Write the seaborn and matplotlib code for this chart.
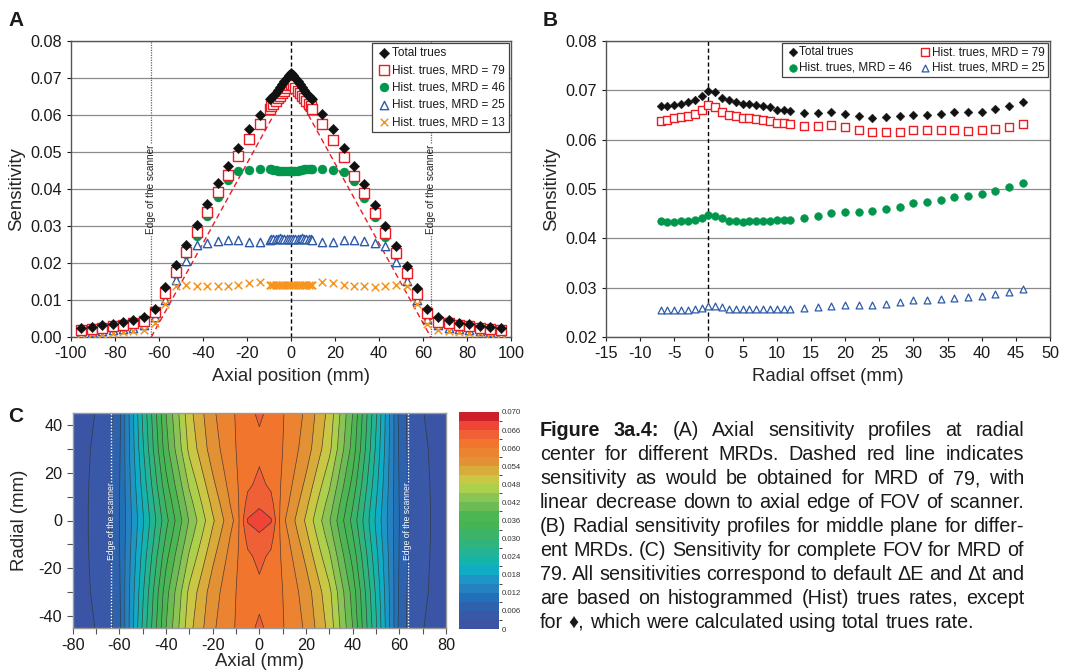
import numpy as np
import pandas as pd
import matplotlib
matplotlib.use("Agg")
import matplotlib.pyplot as plt
import seaborn as sns
from matplotlib.colors import ListedColormap, BoundaryNorm
from matplotlib.ticker import MultipleLocator, FormatStrFormatter

# ------------------------------------------------------------------ data
# Panel A : axial sensitivity profiles (radial centre)
axial_pos = [-95.4, -90.6, -85.9, -81.1, -76.3, -71.6, -66.8, -62.0, -57.2, -52.5,
             -47.7, -42.9, -38.2, -33.4, -28.6, -23.9, -19.1, -14.3, -9.5,
             -9, -8, -7, -6, -5, -4, -3, -2, -1, 0, 1, 2, 3, 4, 5, 6, 7, 8, 9,
             9.5, 14.3, 19.1, 23.9, 28.6, 33.4, 38.2, 42.9, 47.7, 52.5,
             57.2, 62.0, 66.8, 71.6, 76.3, 81.1, 85.9, 90.6, 95.4]
a_total = [0.0023, 0.0027, 0.0032, 0.0036, 0.0041, 0.0047, 0.0054, 0.0077, 0.0135, 0.0194,
           0.0248, 0.0302, 0.0359, 0.0415, 0.0462, 0.0511, 0.0563, 0.0601, 0.0644,
           0.0645, 0.0652, 0.0660, 0.0668, 0.0676, 0.0684, 0.0692, 0.0700, 0.0708, 0.0714,
           0.0708, 0.0700, 0.0692, 0.0684, 0.0676, 0.0668, 0.0660, 0.0652, 0.0645,
           0.0644, 0.0602, 0.0561, 0.0511, 0.0462, 0.0413, 0.0357, 0.0301, 0.0247, 0.0192,
           0.0133, 0.0076, 0.0054, 0.0046, 0.0039, 0.0036, 0.0031, 0.0028, 0.0023]
a_mrd79 = [0.0018, 0.0022, 0.0024, 0.0029, 0.0033, 0.0039, 0.0042, 0.0068, 0.0120, 0.0177,
           0.0230, 0.0284, 0.0339, 0.0391, 0.0438, 0.0488, 0.0535, 0.0575, 0.0616,
           0.0624, 0.0631, 0.0638, 0.0645, 0.0652, 0.0659, 0.0666, 0.0673, 0.0680, 0.0685,
           0.0680, 0.0673, 0.0666, 0.0659, 0.0652, 0.0645, 0.0638, 0.0631, 0.0624,
           0.0616, 0.0575, 0.0533, 0.0486, 0.0435, 0.0388, 0.0336, 0.0281, 0.0228, 0.0174,
           0.0117, 0.0064, 0.0041, 0.0038, 0.0033, 0.0029, 0.0025, 0.0022, 0.0018]
a_mrd46 = [0.0015, 0.0018, 0.0021, 0.0024, 0.0027, 0.0032, 0.0038, 0.0060, 0.0114, 0.0171,
           0.0223, 0.0273, 0.0327, 0.0379, 0.0423, 0.0448, 0.0452, 0.0454, 0.0454,
           0.0453, 0.0452, 0.0451, 0.0450, 0.0449, 0.0449, 0.0448, 0.0448, 0.0448, 0.0448,
           0.0449, 0.0449, 0.0450, 0.0451, 0.0452, 0.0453, 0.0454, 0.0455, 0.0455,
           0.0455, 0.0454, 0.0452, 0.0446, 0.0422, 0.0377, 0.0325, 0.0271, 0.0221, 0.0168,
           0.0112, 0.0058, 0.0038, 0.0032, 0.0027, 0.0024, 0.0021, 0.0018, 0.0015]
a_mrd25 = [0.0012, 0.0014, 0.0016, 0.0018, 0.0021, 0.0025, 0.0032, 0.0054, 0.0101, 0.0155,
           0.0205, 0.0248, 0.0255, 0.0259, 0.0261, 0.0262, 0.0257, 0.0257, 0.0263,
           0.0265, 0.0266, 0.0266, 0.0266, 0.0267, 0.0266, 0.0266, 0.0266, 0.0266, 0.0266,
           0.0266, 0.0266, 0.0266, 0.0266, 0.0267, 0.0266, 0.0266, 0.0266, 0.0265,
           0.0263, 0.0257, 0.0257, 0.0262, 0.0261, 0.0259, 0.0255, 0.0247, 0.0203, 0.0151,
           0.0099, 0.0050, 0.0032, 0.0025, 0.0021, 0.0018, 0.0016, 0.0014, 0.0012]
a_mrd13 = [0.0007, 0.0009, 0.0009, 0.0012, 0.0014, 0.0015, 0.0018, 0.0038, 0.0088, 0.0137,
           0.0141, 0.0139, 0.0137, 0.0137, 0.0138, 0.0140, 0.0147, 0.0149, 0.0141,
           0.0140, 0.0140, 0.0140, 0.0140, 0.0140, 0.0140, 0.0140, 0.0140, 0.0140, 0.0140,
           0.0140, 0.0140, 0.0140, 0.0140, 0.0140, 0.0140, 0.0140, 0.0140, 0.0140,
           0.0141, 0.0148, 0.0147, 0.0140, 0.0138, 0.0137, 0.0136, 0.0138, 0.0141, 0.0137,
           0.0088, 0.0036, 0.0018, 0.0015, 0.0013, 0.0012, 0.0010, 0.0009, 0.0007]
ideal_x = [-63.5, 0.0, 63.5]          # dashed red line (MRD 79, linear decrease)
ideal_y = [0.0, 0.0685, 0.0]
scanner_edge = [-63.5, 63.5]

# Panel B : radial sensitivity profiles (middle plane)
radial_pos = [-7, -6, -5, -4, -3, -2, -1, 0, 1, 2, 3, 4, 5, 6, 7, 8, 9, 10, 11, 12,
              14, 16, 18, 20, 22, 24, 26, 28, 30, 32, 34, 36, 38, 40, 42, 44, 46]
b_total = [0.0668, 0.0669, 0.0671, 0.0673, 0.0676, 0.0681, 0.0689, 0.0699, 0.0697, 0.0685,
           0.0680, 0.0677, 0.0672, 0.0672, 0.0670, 0.0668, 0.0666, 0.0661, 0.0661, 0.0659,
           0.0655, 0.0655, 0.0657, 0.0652, 0.0648, 0.0644, 0.0646, 0.0648, 0.0650, 0.0651,
           0.0652, 0.0656, 0.0656, 0.0657, 0.0662, 0.0668, 0.0676]
b_mrd79 = [0.0638, 0.0640, 0.0643, 0.0645, 0.0648, 0.0653, 0.0660, 0.0670, 0.0666, 0.0657,
           0.0651, 0.0647, 0.0644, 0.0643, 0.0642, 0.0640, 0.0638, 0.0634, 0.0633, 0.0631,
           0.0628, 0.0628, 0.0629, 0.0626, 0.0620, 0.0616, 0.0616, 0.0616, 0.0620, 0.0620,
           0.0620, 0.0620, 0.0618, 0.0619, 0.0622, 0.0626, 0.0632]
b_mrd46 = [0.0435, 0.0434, 0.0434, 0.0435, 0.0436, 0.0438, 0.0442, 0.0448, 0.0445, 0.0441,
           0.0436, 0.0435, 0.0434, 0.0435, 0.0436, 0.0436, 0.0436, 0.0437, 0.0437, 0.0438,
           0.0441, 0.0445, 0.0451, 0.0453, 0.0453, 0.0455, 0.0459, 0.0464, 0.0471, 0.0474,
           0.0478, 0.0483, 0.0485, 0.0490, 0.0496, 0.0504, 0.0513]
b_mrd25 = [0.0255, 0.0255, 0.0255, 0.0255, 0.0255, 0.0257, 0.0259, 0.0263, 0.0263, 0.0260,
           0.0257, 0.0256, 0.0256, 0.0256, 0.0256, 0.0256, 0.0256, 0.0256, 0.0256, 0.0256,
           0.0258, 0.0261, 0.0263, 0.0265, 0.0265, 0.0265, 0.0267, 0.0270, 0.0274, 0.0276,
           0.0278, 0.0280, 0.0281, 0.0284, 0.0287, 0.0291, 0.0297]

# Panel C : sensitivity map for MRD 79 (rows = radial position)
c_axial = [-80, -72, -65, -60, -50, -40, -30, -20, -10, -5, 0,
           5, 10, 20, 30, 40, 50, 60, 65, 72, 80]
c_radial = [-45, -30, -15, -7, 0, 7, 15, 30, 45]
c_row_m45 = [0.0012, 0.0026, 0.0045, 0.0082, 0.0245, 0.0390, 0.0500, 0.0565, 0.0602, 0.0622, 0.0635,
             0.0622, 0.0602, 0.0565, 0.0500, 0.0390, 0.0245, 0.0082, 0.0045, 0.0026, 0.0012]
c_row_m30 = [0.0012, 0.0031, 0.0047, 0.0085, 0.0235, 0.0378, 0.0488, 0.0556, 0.0600, 0.0614, 0.0622,
             0.0614, 0.0600, 0.0556, 0.0488, 0.0378, 0.0235, 0.0085, 0.0047, 0.0031, 0.0012]
c_row_m15 = [0.0011, 0.0033, 0.0049, 0.0088, 0.0220, 0.0350, 0.0455, 0.0533, 0.0595, 0.0624, 0.0638,
             0.0624, 0.0595, 0.0533, 0.0455, 0.0350, 0.0220, 0.0088, 0.0049, 0.0033, 0.0011]
c_row_m7 = [0.0010, 0.0034, 0.0050, 0.0089, 0.0211, 0.0333, 0.0437, 0.0518, 0.0588, 0.0640, 0.0652,
            0.0640, 0.0588, 0.0518, 0.0437, 0.0333, 0.0211, 0.0089, 0.0050, 0.0034, 0.0010]
c_row_0 = [0.0010, 0.0034, 0.0050, 0.0090, 0.0205, 0.0320, 0.0423, 0.0505, 0.0578, 0.0663, 0.0680,
           0.0663, 0.0578, 0.0505, 0.0423, 0.0320, 0.0205, 0.0090, 0.0050, 0.0034, 0.0010]
c_row_p7 = [0.0010, 0.0034, 0.0050, 0.0089, 0.0211, 0.0333, 0.0437, 0.0518, 0.0588, 0.0640, 0.0652,
            0.0640, 0.0588, 0.0518, 0.0437, 0.0333, 0.0211, 0.0089, 0.0050, 0.0034, 0.0010]
c_row_p15 = [0.0011, 0.0033, 0.0049, 0.0088, 0.0220, 0.0350, 0.0455, 0.0533, 0.0595, 0.0624, 0.0638,
             0.0624, 0.0595, 0.0533, 0.0455, 0.0350, 0.0220, 0.0088, 0.0049, 0.0033, 0.0011]
c_row_p30 = [0.0012, 0.0031, 0.0047, 0.0085, 0.0235, 0.0378, 0.0488, 0.0556, 0.0600, 0.0614, 0.0622,
             0.0614, 0.0600, 0.0556, 0.0488, 0.0378, 0.0235, 0.0085, 0.0047, 0.0031, 0.0012]
c_row_p45 = [0.0012, 0.0026, 0.0045, 0.0082, 0.0245, 0.0390, 0.0500, 0.0565, 0.0602, 0.0622, 0.0635,
             0.0622, 0.0602, 0.0565, 0.0500, 0.0390, 0.0245, 0.0082, 0.0045, 0.0026, 0.0012]
c_levels = [0.000, 0.003, 0.006, 0.009, 0.012, 0.015, 0.018, 0.021, 0.024, 0.027, 0.030, 0.033,
            0.036, 0.039, 0.042, 0.045, 0.048, 0.051, 0.054, 0.057, 0.060, 0.063, 0.066, 0.069, 0.072]
cbar_ticks = [0.0, 0.006, 0.012, 0.018, 0.024, 0.030, 0.036, 0.042, 0.048, 0.054, 0.060, 0.066, 0.072]
cbar_labels = ["0", "0.006", "0.012", "0.018", "0.024", "0.030", "0.036", "0.042",
               "0.048", "0.054", "0.060", "0.066", "0.070"]

labels = ["Total trues", "Hist. trues, MRD = 79", "Hist. trues, MRD = 46",
          "Hist. trues, MRD = 25", "Hist. trues, MRD = 13"]

caption_lines = [
    "Figure 3a.4: (A) Axial sensitivity profiles at radial",
    "center for different MRDs. Dashed red line indicates",
    "sensitivity as would be obtained for MRD of 79, with",
    "linear decrease down to axial edge of FOV of scanner.",
    "(B) Radial sensitivity profiles for middle plane for differ-",
    "ent MRDs. (C) Sensitivity for complete FOV for MRD of",
    "79. All sensitivities correspond to default \u0394E and \u0394t and",
    "are based on histogrammed (Hist) trues rates, except",
    "for \u2666, which were calculated using total trues rate.",
]

# ------------------------------------------------------------------ style
sns.set_style("ticks")
FAM = ["Liberation Sans", "DejaVu Sans"]
plt.rcParams["font.family"] = FAM
plt.rcParams["axes.unicode_minus"] = False
plt.rcParams["text.color"] = "#1a1a1a"

C_BLACK = "#111111"
C_RED = "#ec1c24"
C_GREEN = "#00964b"
C_BLUE = "#2e5aa8"
C_ORANGE = "#f7941d"
GRID = "#8a8a8a"
SPINE = "#555555"

band_colors = ["#3b54a3", "#3958a7", "#2f62ad", "#2270b7", "#2681c1", "#1e96c5",
               "#10abc4", "#14b3ad", "#22b494", "#2fb47c", "#3bb46a", "#45b457",
               "#4cb652", "#6cbc56", "#8ac455", "#acd04c", "#c9c744", "#d8ab3b",
               "#e29235", "#ec8331", "#f2752d", "#f06036", "#ee4536", "#cc1f2a"]

TICK_FS = 11.7
LAB_FS = 13.4
LEG_FS = 8.5

fig = plt.figure(figsize=(10.76, 6.71), dpi=100)
W, H = 1076.0, 671.0


def box(l, t, r, b):
    return [l / W, 1 - b / H, (r - l) / W, (b - t) / H]


def style_axes(ax):
    for s in ax.spines.values():
        s.set_color(SPINE)
        s.set_linewidth(1.0)
    ax.tick_params(labelsize=TICK_FS, colors="#1a1a1a", length=3, width=0.8)
    for t in ax.get_xticklabels() + ax.get_yticklabels():
        t.set_family(FAM)


# ------------------------------------------------------------------ panel A
axA = fig.add_axes(box(71, 41, 511, 337))
dfA = pd.DataFrame({"x": axial_pos, "total": a_total, "m79": a_mrd79,
                    "m46": a_mrd46, "m25": a_mrd25, "m13": a_mrd13})
axA.yaxis.grid(True, color=GRID, lw=0.9)
axA.set_axisbelow(True)
axA.axvline(0, color="black", lw=1.0, ls=(0, (3, 2)), zorder=1)
for xe in scanner_edge:
    axA.axvline(xe, ymin=0, ymax=0.345, color="#666666", lw=0.9, ls=(0, (1, 1)), zorder=1)
    axA.axvline(xe, ymin=0.657, ymax=1, color="#666666", lw=0.9, ls=(0, (1, 1)), zorder=1)
    axA.text(xe, 0.0400, "Edge of the scanner", rotation=90, ha="center", va="center",
             fontsize=7.2, color="#222222")
axA.plot(ideal_x, ideal_y, color=C_RED, lw=1.0, ls=(0, (4, 2.5)), zorder=2)

sns.scatterplot(data=dfA, x="x", y="total", marker="D", s=28, color=C_BLACK,
                edgecolor=C_BLACK, linewidth=0.3, label=labels[0], ax=axA, zorder=6)
sns.scatterplot(data=dfA, x="x", y="m79", marker="s", s=44, color="white",
                edgecolor=C_RED, linewidth=1.0, label=labels[1], ax=axA, zorder=5)
sns.scatterplot(data=dfA, x="x", y="m46", marker="o", s=42, color=C_GREEN,
                edgecolor=C_GREEN, linewidth=0.3, label=labels[2], ax=axA, zorder=4)
sns.scatterplot(data=dfA, x="x", y="m25", marker="^", s=36, color="white",
                edgecolor=C_BLUE, linewidth=1.0, label=labels[3], ax=axA, zorder=4)
sns.scatterplot(data=dfA, x="x", y="m13", marker="x", s=30, color=C_ORANGE,
                linewidth=1.1, label=labels[4], ax=axA, zorder=4)
axA.set_xlim(-100, 100)
axA.set_ylim(0, 0.08)
axA.xaxis.set_major_locator(MultipleLocator(20))
axA.yaxis.set_major_locator(MultipleLocator(0.01))
axA.yaxis.set_major_formatter(FormatStrFormatter("%.2f"))
axA.set_xlabel("Axial position (mm)", fontsize=LAB_FS, labelpad=5)
axA.set_ylabel("Sensitivity", fontsize=LAB_FS, labelpad=4)
style_axes(axA)
legA = axA.legend(loc="upper right", fontsize=LEG_FS, frameon=True, fancybox=False,
                  framealpha=1, edgecolor="#444444", borderpad=0.35, labelspacing=0.45,
                  handletextpad=0.05, borderaxespad=0.15, handlelength=1.3)
legA.get_frame().set_linewidth(0.9)

# ------------------------------------------------------------------ panel B
axB = fig.add_axes(box(606, 41, 1050, 337))
dfB = pd.DataFrame({"x": radial_pos, "total": b_total, "m79": b_mrd79,
                    "m46": b_mrd46, "m25": b_mrd25})
axB.yaxis.grid(True, color=GRID, lw=0.9)
axB.set_axisbelow(True)
axB.axvline(0, color="black", lw=1.0, ls=(0, (3, 2)), zorder=1)
sns.scatterplot(data=dfB, x="x", y="total", marker="D", s=20, color=C_BLACK,
                edgecolor=C_BLACK, linewidth=0.3, label=labels[0], ax=axB, zorder=6)
sns.scatterplot(data=dfB, x="x", y="m46", marker="o", s=32, color=C_GREEN,
                edgecolor=C_GREEN, linewidth=0.3, label=labels[2], ax=axB, zorder=4)
sns.scatterplot(data=dfB, x="x", y="m79", marker="s", s=28, color="white",
                edgecolor=C_RED, linewidth=1.0, label=labels[1], ax=axB, zorder=5)
sns.scatterplot(data=dfB, x="x", y="m25", marker="^", s=24, color="white",
                edgecolor=C_BLUE, linewidth=0.9, label=labels[3], ax=axB, zorder=4)
axB.set_xlim(-15, 50)
axB.set_ylim(0.02, 0.08)
axB.xaxis.set_major_locator(MultipleLocator(5))
axB.yaxis.set_major_locator(MultipleLocator(0.01))
axB.yaxis.set_major_formatter(FormatStrFormatter("%.2f"))
axB.set_xlabel("Radial offset (mm)", fontsize=LAB_FS, labelpad=5)
axB.set_ylabel("Sensitivity", fontsize=LAB_FS, labelpad=4)
style_axes(axB)
legB = axB.legend(loc="upper right", ncol=2, fontsize=LEG_FS, frameon=True, fancybox=False,
                  framealpha=1, edgecolor="#444444", borderpad=0.3, labelspacing=0.3,
                  handletextpad=0.0, borderaxespad=0.15, handlelength=1.1, columnspacing=0.6)
legB.get_frame().set_linewidth(0.9)

# ------------------------------------------------------------------ panel C
axC = fig.add_axes(box(72.7, 413, 446, 628))
Xg, Yg = np.meshgrid(np.array(c_axial), np.array(c_radial))
Zg = np.array([c_row_m45, c_row_m30, c_row_m15, c_row_m7, c_row_0,
               c_row_p7, c_row_p15, c_row_p30, c_row_p45])
cmap = ListedColormap(band_colors)
norm = BoundaryNorm(c_levels, cmap.N)
cf = axC.contourf(Xg, Yg, Zg, levels=c_levels, cmap=cmap, norm=norm)
axC.contour(Xg, Yg, Zg, levels=c_levels, colors="#333333", linewidths=0.5, alpha=0.85)
for xe in scanner_edge:
    axC.plot([xe, xe], [-45, -16.8], color="white", lw=1.0, ls=(0, (1, 1.2)))
    axC.plot([xe, xe], [16.0, 45], color="white", lw=1.0, ls=(0, (1, 1.2)))
    axC.text(xe, -0.4, "Edge of the scanner", rotation=90, ha="center", va="center",
             fontsize=6.2, color="white")
axC.set_xlim(-80, 80)
axC.set_ylim(-45, 45)
axC.xaxis.set_major_locator(MultipleLocator(20))
axC.xaxis.set_minor_locator(MultipleLocator(10))
axC.yaxis.set_major_locator(MultipleLocator(20))
axC.yaxis.set_minor_locator(MultipleLocator(10))
axC.set_xlabel("Axial (mm)", fontsize=LAB_FS, labelpad=0)
axC.set_ylabel("Radial (mm)", fontsize=LAB_FS, labelpad=8)
style_axes(axC)
for s in axC.spines.values():
    s.set_color("#999999")
axC.tick_params(which="both", length=4, width=0.8, color="#555555")

cax = fig.add_axes(box(459, 412, 499, 629))
cb = fig.colorbar(cf, cax=cax, ticks=cbar_ticks)
cb.ax.set_yticklabels(cbar_labels)
cb.outline.set_visible(False)
cax.tick_params(length=0, labelsize=5.6, colors="#333333", pad=2)

# ------------------------------------------------------------------ panel letters
for txt, px, py in [("A", 8, 20), ("B", 543, 20), ("C", 8, 416)]:
    fig.text(px / W, 1 - py / H, txt, fontsize=15, fontweight="bold", ha="left", va="center")

# ------------------------------------------------------------------ caption (justified)
CAP_FS = 14.2
cap_left, cap_right = 540.0, 1024.0
base0, step = 436.5, 23.95
renderer = fig.canvas.get_renderer()


def wwidth(word, weight):
    t = fig.text(0, 0, word, fontsize=CAP_FS, fontweight=weight, family=FAM)
    w = t.get_window_extent(renderer).width
    t.remove()
    return w


space_w = wwidth("a b", "normal") - wwidth("ab", "normal")
for i, line in enumerate(caption_lines):
    words = line.split(" ")
    weights = ["bold" if (i == 0 and j < 2) else "normal" for j in range(len(words))]
    widths = [wwidth(w, wt) for w, wt in zip(words, weights)]
    if i < len(caption_lines) - 1:
        gap = max((cap_right - cap_left - sum(widths)) / (len(words) - 1), space_w * 0.8)
    else:
        gap = space_w
    x = cap_left
    y = 1 - (base0 + i * step) / H
    for w, wt, wd in zip(words, weights, widths):
        fig.text(x / W, y, w, fontsize=CAP_FS, fontweight=wt, family=FAM,
                 ha="left", va="baseline", color="#1a1a1a")
        x += wd + gap

fig.savefig("out.png", dpi=100)
